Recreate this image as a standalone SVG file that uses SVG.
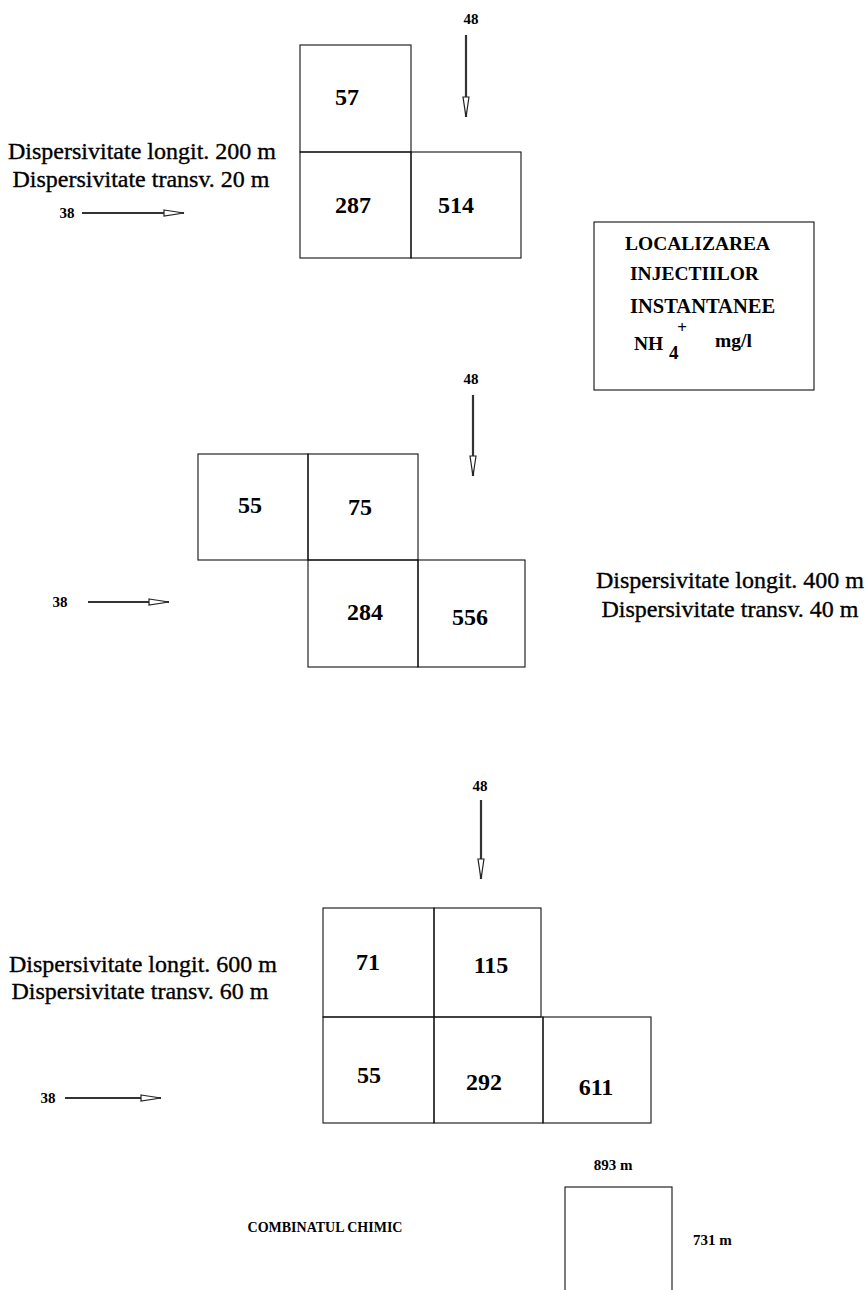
<svg xmlns="http://www.w3.org/2000/svg" width="867" height="1290" viewBox="0 0 867 1290">
<style>
.cell{fill:none;stroke:#111;stroke-width:1.1}
text{font-family:'Liberation Serif','Times New Roman',Times,serif}
.num{font-weight:bold;font-size:24px;fill:#000;text-anchor:middle}
.lbl{font-weight:bold;font-size:15px;fill:#000}
.disp{font-size:24px;fill:#000;stroke:#000;stroke-width:0.35}
.leg{font-weight:bold;font-size:19.5px;fill:#000}
.shaft{stroke:#333;stroke-width:2.2;fill:none}
</style>
<defs>
<marker id="ah" markerUnits="userSpaceOnUse" viewBox="0 0 22 8" refX="21" refY="4" markerWidth="22" markerHeight="8" orient="auto">
<path d="M1,1 L21,4 L1,7 Z" fill="#fff" stroke="#222" stroke-width="1.2"/>
</marker>
</defs>
<rect width="867" height="1290" fill="#fff"/>

<g id="connectors">
<line class="shaft" x1="466" y1="35" x2="466" y2="117" marker-end="url(#ah)"/>
<line class="shaft" x1="82" y1="213" x2="184" y2="213" marker-end="url(#ah)"/>
<line class="shaft" x1="473" y1="395" x2="473" y2="476" marker-end="url(#ah)"/>
<line class="shaft" x1="88" y1="602" x2="169" y2="602" marker-end="url(#ah)"/>
<line class="shaft" x1="481" y1="800" x2="481" y2="879" marker-end="url(#ah)"/>
<line class="shaft" x1="65" y1="1098" x2="161" y2="1098" marker-end="url(#ah)"/>
</g>

<g id="labels-arrows">
<text class="lbl" x="471" y="24" text-anchor="middle">48</text>
<text class="lbl" x="67" y="218" text-anchor="middle">38</text>
<text class="lbl" x="471" y="384" text-anchor="middle">48</text>
<text class="lbl" x="60" y="607" text-anchor="middle">38</text>
<text class="lbl" x="480" y="791" text-anchor="middle">48</text>
<text class="lbl" x="48" y="1103" text-anchor="middle">38</text>
</g>

<g id="group1">
<g id="c57"><rect class="cell" x="300" y="45" width="111" height="107"/><text class="num" x="347" y="105">57</text></g>
<g id="c287"><rect class="cell" x="300" y="152" width="111" height="106"/><text class="num" x="353" y="213">287</text></g>
<g id="c514"><rect class="cell" x="411" y="152" width="110" height="106"/><text class="num" x="456" y="213">514</text></g>
<text class="disp" x="142" y="159" text-anchor="middle">Dispersivitate longit. 200 m</text>
<text class="disp" x="141" y="187" text-anchor="middle">Dispersivitate transv. 20 m</text>
</g>

<g id="legend">
<rect class="cell" x="594" y="222" width="220" height="168"/>
<text class="leg" x="625" y="250">LOCALIZAREA</text>
<text class="leg" x="630" y="280">INJECTIILOR</text>
<text class="leg" x="630" y="313" style="font-size:20.5px">INSTANTANEE</text>
<text class="leg" x="682" y="333" text-anchor="middle" style="font-size:17px">+</text>
<text class="leg" x="634" y="350">NH</text>
<text class="leg" x="669" y="359" style="font-size:19px">4</text>
<text class="leg" x="715" y="347">mg/l</text>
</g>

<g id="group2">
<g id="c55a"><rect class="cell" x="198" y="454" width="110" height="106"/><text class="num" x="250" y="513">55</text></g>
<g id="c75"><rect class="cell" x="308" y="454" width="110" height="106"/><text class="num" x="360" y="515">75</text></g>
<g id="c284"><rect class="cell" x="308" y="560" width="110" height="107"/><text class="num" x="365" y="620">284</text></g>
<g id="c556"><rect class="cell" x="418" y="560" width="107" height="107"/><text class="num" x="470" y="625">556</text></g>
<text class="disp" x="730" y="588" text-anchor="middle">Dispersivitate longit. 400 m</text>
<text class="disp" x="730" y="617" text-anchor="middle">Dispersivitate transv. 40 m</text>
</g>

<g id="group3">
<g id="c71"><rect class="cell" x="323" y="908" width="111" height="109"/><text class="num" x="368" y="970">71</text></g>
<g id="c115"><rect class="cell" x="434" y="908" width="107" height="109"/><text class="num" x="491" y="973">115</text></g>
<g id="c55b"><rect class="cell" x="323" y="1017" width="111" height="106"/><text class="num" x="369" y="1083">55</text></g>
<g id="c292"><rect class="cell" x="434" y="1017" width="109" height="106"/><text class="num" x="484" y="1090">292</text></g>
<g id="c611"><rect class="cell" x="543" y="1017" width="108" height="106"/><text class="num" x="596" y="1095">611</text></g>
<text class="disp" x="143" y="972" text-anchor="middle">Dispersivitate longit. 600 m</text>
<text class="disp" x="140" y="999" text-anchor="middle">Dispersivitate transv. 60 m</text>
</g>

<g id="combinat">
<text class="lbl" x="325" y="1232" text-anchor="middle" style="font-size:14px">COMBINATUL CHIMIC</text>
<text class="lbl" x="613" y="1170" text-anchor="middle">893 m</text>
<rect class="cell" x="565" y="1187" width="107" height="120"/>
<text class="lbl" x="693" y="1245">731 m</text>
</g>
</svg>
